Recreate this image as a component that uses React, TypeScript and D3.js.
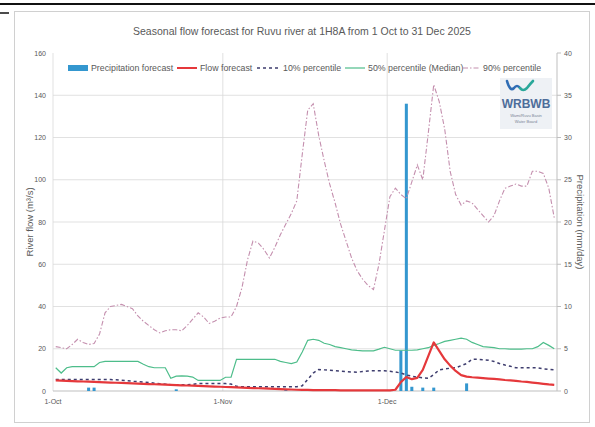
import React from "react";
import * as d3 from "d3";

// ---- Data (daily, 1 Oct – 31 Dec 2025) ----
const startDate = Date.UTC(2025, 9, 1);
const endDate = Date.UTC(2026, 0, 1);

const p90: number[] = [
  21, 20.5, 20, 22, 24.5, 23, 22, 22.5, 27, 37, 40, 40.5, 41, 40, 39, 35.5, 33, 31, 29, 27.5, 28.5, 29, 29, 28.5, 31, 34, 37, 35, 32, 33, 34.5,
  35, 35, 40, 49, 62, 71, 70, 67, 63, 68, 74, 79, 84, 90, 112, 133, 136, 121, 109, 98, 89, 79, 71, 63, 57, 53, 50, 48, 60, 76,
  92, 96, 93, 91, 99, 107, 100, 122, 145, 137, 124, 104, 93, 88, 90, 89, 86, 83, 80, 83, 90, 96, 97, 98, 97, 97, 104, 104, 103, 96, 82,
];

const p50: number[] = [
  11, 8.5, 11, 11.5, 11.5, 11.5, 11.5, 11.5, 13.5, 14, 14, 14, 14, 14, 14, 14, 12.7, 11.5, 11, 11, 11, 6, 7, 7.2, 7, 6.6, 5, 5, 5, 5, 5,
  6.5, 6.6, 15, 15, 15, 15, 15, 15, 15, 15, 14, 13.5, 13, 13.7, 18.5, 24, 24.5, 24, 22.6, 22, 21, 20.5, 20, 19.5, 19.2, 19, 19, 19, 19.8, 20.7,
  20, 19.3, 19.3, 19.3, 19.3, 19.5, 20, 20.5, 21.6, 22.5, 23.5, 24, 24.5, 25, 24.5, 23, 22, 21, 20.8, 20.5, 20, 20, 19.8, 19.8, 19.8, 20, 20, 21, 23, 21.6, 20,
];

const p10: number[] = [
  5.5, 5.5, 5.5, 5.5, 5.5, 5.5, 5.5, 5.5, 5.5, 5.5, 5.4, 5.3, 5.1, 4.9, 4.6, 4.4, 4.3, 4.0, 3.7, 3.4, 3.2, 3.0, 3.0, 3.0, 3.0, 3.2, 3.5, 3.5, 3.5, 3.5, 3.5,
  3.5, 3.3, 2.2, 2, 2, 2, 2, 2, 2, 2, 2, 2, 2, 2, 2.5, 5.5, 8.5, 10.2, 10, 9.8, 9.6, 9.4, 9.2, 9, 8.9, 9.2, 9.5, 9.6, 9.6, 9.6,
  9.3, 9, 8.5, 7.6, 7, 6.6, 6.2, 6, 7.8, 10, 10.4, 10.8, 11, 12, 13, 15, 15, 14.8, 14.6, 14, 13, 12.3, 11.7, 11, 11, 11, 11, 11, 10.5, 10.3, 10,
];

const flow: number[] = [
  5.0, 4.9, 4.8, 4.7, 4.6, 4.5, 4.4, 4.3, 4.2, 4.1, 4.0, 3.9, 3.8, 3.7, 3.6, 3.5, 3.4, 3.3, 3.2, 3.1, 3.0, 2.9, 2.8, 2.7, 2.6, 2.5, 2.4, 2.3, 2.2, 2.1, 2.0,
  1.9, 1.8, 1.7, 1.6, 1.5, 1.4, 1.3, 1.2, 1.1, 1.0, 0.9, 0.8, 0.7, 0.6, 0.5, 0.5, 0.4, 0.4, 0.4, 0.4, 0.4, 0.3, 0.3, 0.3, 0.3, 0.3, 0.3, 0.3, 0.3, 0.3,
  0.3, 0.6, 4.2, 6.6, 5.6, 6.2, 10, 16.5, 23, 19, 15, 12, 9.5, 7.5, 6.8, 6.5, 6.3, 6.1, 5.9, 5.7, 5.5, 5.2, 5.0, 4.8, 4.5, 4.3, 4.0, 3.7, 3.4, 3.1, 2.9,
];

const precip: number[] = [
  0, 0, 0, 0, 0, 0, 0.4, 0.4, 0, 0, 0, 0, 0, 0, 0, 0, 0, 0, 0, 0, 0, 0, 0.2, 0, 0, 0, 0, 0, 0, 0, 0,
  0, 0, 0, 0, 0, 0, 0, 0, 0, 0, 0, 0.2, 0, 0, 0, 0, 0, 0, 0, 0, 0, 0, 0, 0, 0, 0, 0, 0, 0, 0,
  0, 0, 4.8, 34, 0.5, 0, 0.4, 0, 0.4, 0, 0, 0, 0, 0, 0.9, 0, 0, 0, 0, 0, 0, 0, 0, 0, 0, 0, 0, 0, 0, 0, 0,
];

const flowTicks = [0, 20, 40, 60, 80, 100, 120, 140, 160];
const precipTicks = [0, 5, 10, 15, 20, 25, 30, 35, 40];
const monthTicks = [Date.UTC(2025, 9, 1), Date.UTC(2025, 10, 1), Date.UTC(2025, 11, 1)];
const monthLabels = ["1-Oct", "1-Nov", "1-Dec"];

const titleText = "Seasonal flow forecast for Ruvu river at 1H8A from 1 Oct to 31 Dec 2025";
const leftTitle = "River flow (m³/s)";
const rightTitle = "Precipitation (mm/day)";

const DAY = 86400000;

export default function App() {
  const W = 595, H = 427;
  const left = 53, right = 557, top = 53, bottom = 391;
  const x = d3.scaleUtc().domain([new Date(startDate), new Date(endDate)]).range([left, right]);
  const yL = d3.scaleLinear().domain([0, 160]).range([bottom, top]);
  const yR = d3.scaleLinear().domain([0, 40]).range([bottom, top]);
  const dx = (i: number) => x(new Date(startDate + (i + 0.5) * DAY));
  const slot = x(new Date(startDate + DAY)) - x(new Date(startDate));
  const barW = slot * 0.55;

  const line = d3.line<number>().x((_, i) => dx(i)).y((v) => yL(v));

  const font = "'Liberation Sans', Arial, sans-serif";
  const textCol = "#595959";
  const grid = "#d9d9d9";

  const c90 = "#c48fae";
  const c50 = "#4dbd8a";
  const c10 = "#3e3d6e";
  const cFlow = "#e5383b";
  const cPrec = "#3497cf";

  return (
    <svg width={W} height={H} style={{ position: "fixed", left: 0, top: 0, background: "#fff" }} fontFamily={font}>
      <rect x={0} y={0} width={W} height={H} fill="#fff" />
      <line x1={0} x2={W} y1={4} y2={4} stroke="#111" strokeWidth={2} />
      <line x1={0} x2={9} y1={13} y2={13} stroke="#111" strokeWidth={1.5} />
      <rect x={14.5} y={11.5} width={575} height={411} fill="none" stroke="#d0d0d0" strokeWidth={1} />

      <text x={302} y={35} textAnchor="middle" fontSize={10.5} fill={textCol}>{titleText}</text>

      {/* gridlines */}
      {flowTicks.filter((t) => t > 0 && t < 160).map((t) => (
        <line key={"g" + t} x1={left} x2={right} y1={yL(t)} y2={yL(t)} stroke={grid} strokeWidth={0.8} />
      ))}
      {monthTicks.map((t) => (
        <line key={"v" + t} x1={x(new Date(t))} x2={x(new Date(t))} y1={top} y2={bottom} stroke={grid} strokeWidth={0.8} />
      ))}

      {/* axes */}
      <line x1={left} x2={right} y1={bottom} y2={bottom} stroke="#bfbfbf" strokeWidth={1} />
      <line x1={right} x2={right} y1={top} y2={bottom} stroke="#bfbfbf" strokeWidth={1} />
      {precipTicks.map((t) => (
        <g key={"r" + t}>
          <line x1={right} x2={right + 4} y1={yR(t)} y2={yR(t)} stroke="#bfbfbf" />
          <text x={right + 7} y={yR(t)} dominantBaseline="central" fontSize={7} fill={textCol}>{t}</text>
        </g>
      ))}
      {flowTicks.map((t) => (
        <text key={"l" + t} x={46} y={yL(t)} textAnchor="end" dominantBaseline="central" fontSize={7} fill={textCol}>{t}</text>
      ))}
      {monthTicks.map((t, i) => (
        <text key={"m" + t} x={x(new Date(t))} y={401} textAnchor="middle" dominantBaseline="central" fontSize={7} fill={textCol}>{monthLabels[i]}</text>
      ))}
      <text transform={`translate(29,${(top + bottom) / 2}) rotate(-90)`} textAnchor="middle" dominantBaseline="central" fontSize={9.5} fill={textCol}>{leftTitle}</text>
      <text transform={`translate(580,${(top + bottom) / 2}) rotate(90)`} textAnchor="middle" dominantBaseline="central" fontSize={9.5} fill={textCol}>{rightTitle}</text>

      {/* precipitation bars */}
      {precip.map((v, i) => v > 0 ? (
        <rect key={"b" + i} x={dx(i) - barW / 2} width={barW} y={yR(v)} height={bottom - yR(v)} fill={cPrec} />
      ) : null)}

      {/* lines */}
      <path d={line(p90) || ""} fill="none" stroke={c90} strokeWidth={1.1} strokeDasharray="5,2,1.5,2" />
      <path d={line(p50) || ""} fill="none" stroke={c50} strokeWidth={1.2} />
      <path d={line(p10) || ""} fill="none" stroke={c10} strokeWidth={1.5} strokeDasharray="3,3" />
      <path d={line(flow) || ""} fill="none" stroke={cFlow} strokeWidth={2.2} strokeLinejoin="round" />

      {/* legend */}
      <g fontSize={8.8} fill={textCol}>
        <rect x={68} y={65} width={20} height={6} fill={cPrec} />
        <text x={91} y={68} dominantBaseline="central">Precipitation forecast</text>
        <line x1={177} x2={197} y1={68} y2={68} stroke={cFlow} strokeWidth={2} />
        <text x={200} y={68} dominantBaseline="central">Flow forecast</text>
        <line x1={257} x2={280} y1={68} y2={68} stroke={c10} strokeWidth={1.5} strokeDasharray="3,3" />
        <text x={283} y={68} dominantBaseline="central">10% percentile</text>
        <line x1={345} x2={365} y1={68} y2={68} stroke={c50} strokeWidth={1.2} />
        <text x={368} y={68} dominantBaseline="central">50% percentile (Median)</text>
        <line x1={463} x2={480} y1={68} y2={68} stroke={c90} strokeWidth={1.1} strokeDasharray="5,2,1.5,2" />
        <text x={483} y={68} dominantBaseline="central">90% percentile</text>
      </g>

      {/* logo */}
      <g>
        <rect x={500} y={78} width={52} height={51} fill="#eef1f5" />
        <path d="M507,81 Q510,92 514,88 Q517,84 520,88" fill="none" stroke="#2f6db5" strokeWidth={2.6} strokeLinecap="round" />
        <path d="M520,88 Q523,92 527,88 Q530,84 533,81" fill="none" stroke="#2aa89a" strokeWidth={2.6} strokeLinecap="round" />
        <text x={526} y={108} textAnchor="middle" fontSize={12} fontWeight="bold" fill="#4d6d9a">WRBWB</text>
        <text x={526} y={117} textAnchor="middle" fontSize={4} fill="#7a8595">Wami/Ruvu Basin</text>
        <text x={526} y={123} textAnchor="middle" fontSize={4} fill="#7a8595">Water Board</text>
      </g>
    </svg>
  );
}
